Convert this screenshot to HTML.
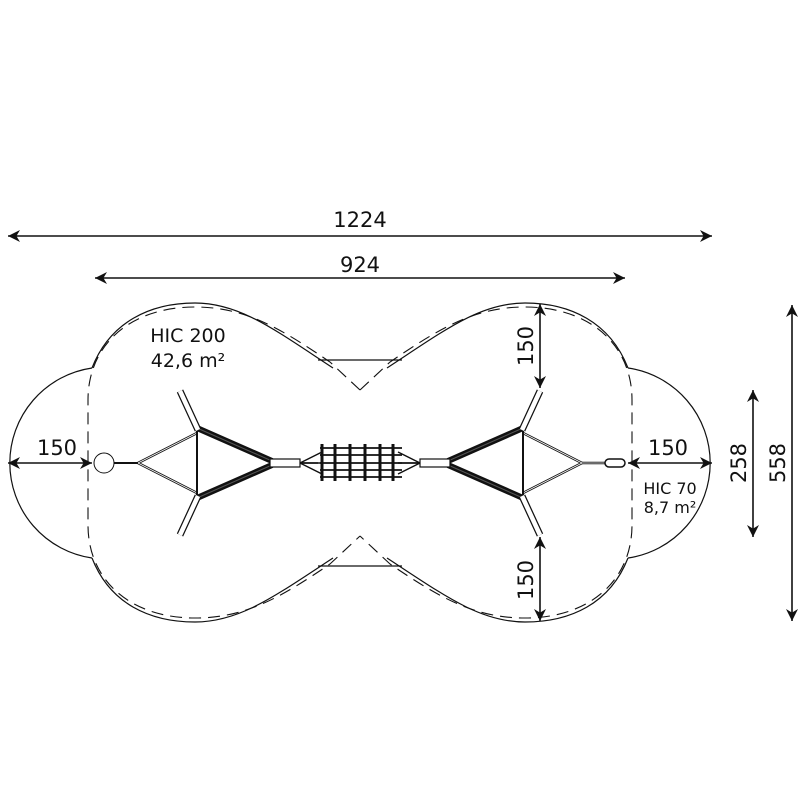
<!DOCTYPE html>
<html><head><meta charset="utf-8"><style>html,body{margin:0;padding:0;background:#fff}svg{display:block}text{font-family:"DejaVu Sans","Liberation Sans",sans-serif;fill:#111}</style></head>
<body>
<svg width="800" height="800" viewBox="0 0 800 800" xmlns="http://www.w3.org/2000/svg">
<defs>
<marker id="a" viewBox="0 0 10 10" refX="10" refY="5" markerWidth="14" markerHeight="12" orient="auto-start-reverse" markerUnits="userSpaceOnUse"><path d="M0,0 L10,5 L0,10 L3,5z" fill="#111"/></marker>
<g id="half">
<path d="M92,368 A96,96 0 0 0 92,558" fill="none" stroke="#111" stroke-width="1.2"/>
<path d="M92,368 C110,322 150,303 195,303 C240,303 275,330 333,368" fill="none" stroke="#111" stroke-width="1.2"/>
<path d="M92,558 C110,604 150,622 195,622 C240,622 275,596 333,558" fill="none" stroke="#111" stroke-width="1.2"/>
<path d="M360,390 L330,362 C280,328 245,307 195,307 C130,307 88,345 88,400 L88,525 C88,580 130,618 195,618 C245,618 280,598 330,564 L360,536" fill="none" stroke="#111" stroke-width="1.1" stroke-dasharray="12,7"/>
<path d="M138,463 L197,433 M138,463 L197,493" stroke="#111" stroke-width="2.5"/>
<path d="M138,463 L197,433 M138,463 L197,493" stroke="#fff" stroke-width="0.8"/>
<line x1="197" y1="428" x2="197" y2="498" stroke="#111" stroke-width="2"/>
<path d="M197,428 L272,461 M197,498 L272,465" stroke="#111" stroke-width="6"/>
<path d="M197,428 L272,461 M197,498 L272,465" stroke="#555" stroke-width="1"/>
<path d="M198,430 L180,391 M198,496 L180,535" stroke="#111" stroke-width="7"/>
<path d="M198,430 L180,391 M198,496 L180,535" stroke="#fff" stroke-width="4.5"/>
<rect x="270" y="459" width="30" height="8" fill="#fff" stroke="#111" stroke-width="1.2"/>
<path d="M300,463 L322,452 M300,463 L322,474 M300,463 L322,463" stroke="#111" stroke-width="1.5"/>
</g>
</defs>
<use href="#half"/>
<use href="#half" transform="translate(720,0) scale(-1,1)"/>
<circle cx="104" cy="463" r="10" fill="#fff" stroke="#111" stroke-width="1"/>
<line x1="114" y1="463" x2="138" y2="463" stroke="#111" stroke-width="2"/>
<path d="M582,463 L605,463" stroke="#111" stroke-width="2.5"/>
<path d="M582,463 L605,463" stroke="#fff" stroke-width="0.8"/>
<rect x="605" y="459" width="20" height="8" rx="4" fill="#fff" stroke="#111" stroke-width="1.5"/>
<g stroke="#111" fill="none">
<path d="M320,448 L402,448 M320,455 L402,455 M320,463 L402,463 M320,470 L402,470 M320,477 L402,477" stroke-width="1.8"/>
<path d="M322,444 V481 M335,444 V481 M350,444 V481 M365,444 V481 M380,444 V481 M393,444 V481" stroke-width="3"/>
<path d="M302,463 L318,463 M402,463 L420,463" stroke-width="1.5"/>
</g>
<line x1="318" y1="360" x2="402" y2="360" stroke="#111" stroke-width="1.2"/>
<line x1="318" y1="566" x2="402" y2="566" stroke="#111" stroke-width="1.2"/>
<g stroke="#111" stroke-width="1.6" fill="none">
<line x1="8" y1="236" x2="712" y2="236" marker-start="url(#a)" marker-end="url(#a)"/>
<line x1="95" y1="278" x2="625" y2="278" marker-start="url(#a)" marker-end="url(#a)"/>
<line x1="8" y1="463" x2="92" y2="463" marker-start="url(#a)" marker-end="url(#a)"/>
<line x1="628" y1="463" x2="712" y2="463" marker-start="url(#a)" marker-end="url(#a)"/>
<line x1="540" y1="304" x2="540" y2="388" marker-start="url(#a)" marker-end="url(#a)"/>
<line x1="540" y1="537" x2="540" y2="621" marker-start="url(#a)" marker-end="url(#a)"/>
<line x1="753" y1="390" x2="753" y2="537" marker-start="url(#a)" marker-end="url(#a)"/>
<line x1="792" y1="305" x2="792" y2="621" marker-start="url(#a)" marker-end="url(#a)"/>
</g>
<g font-size="21" text-anchor="middle">
<text x="360" y="227">1224</text>
<text x="360" y="272">924</text>
<text x="57" y="455">150</text>
<text x="668" y="455">150</text>
<text transform="translate(533,346) rotate(-90)">150</text>
<text transform="translate(533,580) rotate(-90)">150</text>
<text transform="translate(746,463) rotate(-90)">258</text>
<text transform="translate(785,463) rotate(-90)">558</text>
</g>
<g font-size="19" text-anchor="middle">
<text x="188" y="342">HIC 200</text>
<text x="188" y="367">42,6 m²</text>
</g>
<g font-size="16" text-anchor="middle">
<text x="670" y="494">HIC 70</text>
<text x="670" y="513">8,7 m²</text>
</g>
</svg>
</body></html>
